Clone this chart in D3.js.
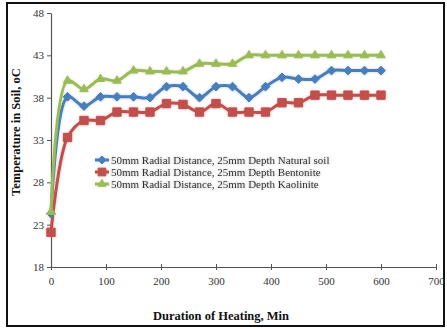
<!DOCTYPE html>
<html>
<head>
<meta charset="utf-8">
<script src="https://cdn.jsdelivr.net/npm/d3@7"></script>
<style>
  html, body { margin: 0; padding: 0; background: #fff; }
  svg { display: block; }
  svg text { font-family: "Liberation Serif", "Times New Roman", "DejaVu Serif", serif; }
</style>
</head>
<body>
<svg id="chart" width="447" height="329"></svg>
<script>
// Heating duration (min) at which soil temperature was logged
const minutes = [0, 30, 60, 90, 120, 150, 180, 210, 240, 270, 300, 330, 360, 390, 420, 450, 480, 510, 540, 570, 600];

// Soil temperature (°C) at 50 mm radial distance, 25 mm depth
const naturalSoil = [24.3, 38.1, 37.0, 38.1, 38.1, 38.1, 38.0, 39.3, 39.3, 38.0, 39.3, 39.3, 38.0, 39.3, 40.4, 40.2, 40.2, 41.2, 41.2, 41.2, 41.2];
const bentonite   = [22.1, 33.3, 35.3, 35.3, 36.3, 36.3, 36.3, 37.3, 37.2, 36.3, 37.3, 36.3, 36.3, 36.3, 37.4, 37.4, 38.3, 38.3, 38.3, 38.3, 38.3];
const kaolinite   = [24.5, 40.0, 39.0, 40.2, 40.0, 41.2, 41.1, 41.1, 41.1, 42.0, 42.0, 42.0, 43.0, 43.0, 43.0, 43.0, 43.0, 43.0, 43.0, 43.0, 43.0];

const seriesNames = [
  "50mm Radial Distance, 25mm Depth Natural soil",
  "50mm Radial Distance, 25mm Depth Bentonite",
  "50mm Radial Distance, 25mm Depth Kaolinite"
];

const xTicks = [0, 100, 200, 300, 400, 500, 600, 700];
const yTicks = [18, 23, 28, 33, 38, 43, 48];

const series = [
  { name: seriesNames[0], values: naturalSoil, color: "#4a7ebb", symbol: d3.symbolDiamond2, size: 48 },
  { name: seriesNames[1], values: bentonite,   color: "#c0504d", symbol: d3.symbolSquare2,  size: 88 },
  { name: seriesNames[2], values: kaolinite,   color: "#9bbb59", symbol: d3.symbolTriangle2, size: 52 }
];

const svg = d3.select("#chart");

// outer frame
svg.append("rect")
  .attr("x", 7).attr("y", 3)
  .attr("width", 437).attr("height", 323)
  .attr("fill", "#fff")
  .attr("stroke", "#111")
  .attr("stroke-width", 2);

const x = d3.scaleLinear().domain([0, 700]).range([51, 436]);
const y = d3.scaleLinear().domain([18, 48]).range([267, 13]);

// soft glow around the data lines
const defs = svg.append("defs");
const glow = defs.append("filter").attr("id", "glow")
  .attr("x", "-10%").attr("y", "-10%").attr("width", "120%").attr("height", "120%");
glow.append("feGaussianBlur").attr("in", "SourceGraphic").attr("stdDeviation", 1.8).attr("result", "b");
glow.append("feComponentTransfer").attr("in", "b").attr("result", "bf")
  .append("feFuncA").attr("type", "linear").attr("slope", 0.35);
const merge = glow.append("feMerge");
merge.append("feMergeNode").attr("in", "bf");
merge.append("feMergeNode").attr("in", "SourceGraphic");

// axes
const xAxis = svg.append("g")
  .attr("transform", `translate(0,${y(18)})`)
  .call(d3.axisBottom(x).tickValues(xTicks).tickSize(4).tickSizeOuter(0).tickPadding(6));
const yAxis = svg.append("g")
  .attr("transform", `translate(${x(0)},0)`)
  .call(d3.axisLeft(y).tickValues(yTicks).tickSize(4).tickSizeOuter(0).tickPadding(3));

[xAxis, yAxis].forEach(g => {
  g.attr("font-family", null);
  g.select(".domain").attr("stroke", "#555").attr("stroke-width", 1.2);
  g.selectAll(".tick line").attr("stroke", "#555");
  g.selectAll(".tick text")
    .attr("font-size", 11)
    .attr("fill", "#333");
});
// x ticks cross the axis line
xAxis.selectAll(".tick line").attr("y1", -3).attr("y2", 3);

// lines
const line = d3.line()
  .x((d, i) => x(minutes[i]))
  .y(d => y(d))
  .curve(d3.curveCatmullRom.alpha(0.5));

const plot = svg.append("g").attr("filter", "url(#glow)");

series.forEach(s => {
  plot.append("path")
    .datum(s.values)
    .attr("fill", "none")
    .attr("stroke", s.color)
    .attr("stroke-width", 3)
    .attr("stroke-linejoin", "round")
    .attr("d", line);
});

series.forEach(s => {
  const sym = d3.symbol().type(s.symbol).size(s.size);
  plot.append("g").selectAll("path")
    .data(s.values)
    .join("path")
    .attr("transform", (d, i) => `translate(${x(minutes[i])},${y(d)})`)
    .attr("d", sym)
    .attr("fill", s.color)
    .attr("stroke", s.color)
    .attr("stroke-width", 1);
});

// legend
const legend = svg.append("g").attr("filter", "url(#glow)");
series.forEach((s, i) => {
  const ly = 160 + i * 12;
  legend.append("line")
    .attr("x1", 95).attr("x2", 109)
    .attr("y1", ly).attr("y2", ly)
    .attr("stroke", s.color).attr("stroke-width", 3);
  legend.append("path")
    .attr("transform", `translate(102,${ly})`)
    .attr("d", d3.symbol().type(s.symbol).size(s.size * 0.85)())
    .attr("fill", s.color).attr("stroke", s.color);
  legend.append("text")
    .attr("x", 111).attr("y", ly + 3.8)
    .attr("font-size", 11)
    .attr("fill", "#333")
    .text(s.name);
});

// axis titles
svg.append("text")
  .attr("x", 221).attr("y", 320)
  .attr("text-anchor", "middle")
  .attr("font-weight", "bold")
  .attr("font-size", 12.5)
  .attr("fill", "#111")
  .text("Duration of Heating,  Min");

svg.append("text")
  .attr("transform", "translate(20,132) rotate(-90)")
  .attr("text-anchor", "middle")
  .attr("font-weight", "bold")
  .attr("font-size", 12.5)
  .attr("fill", "#111")
  .text("Temperature in Soil, oC");
</script>
</body>
</html>
